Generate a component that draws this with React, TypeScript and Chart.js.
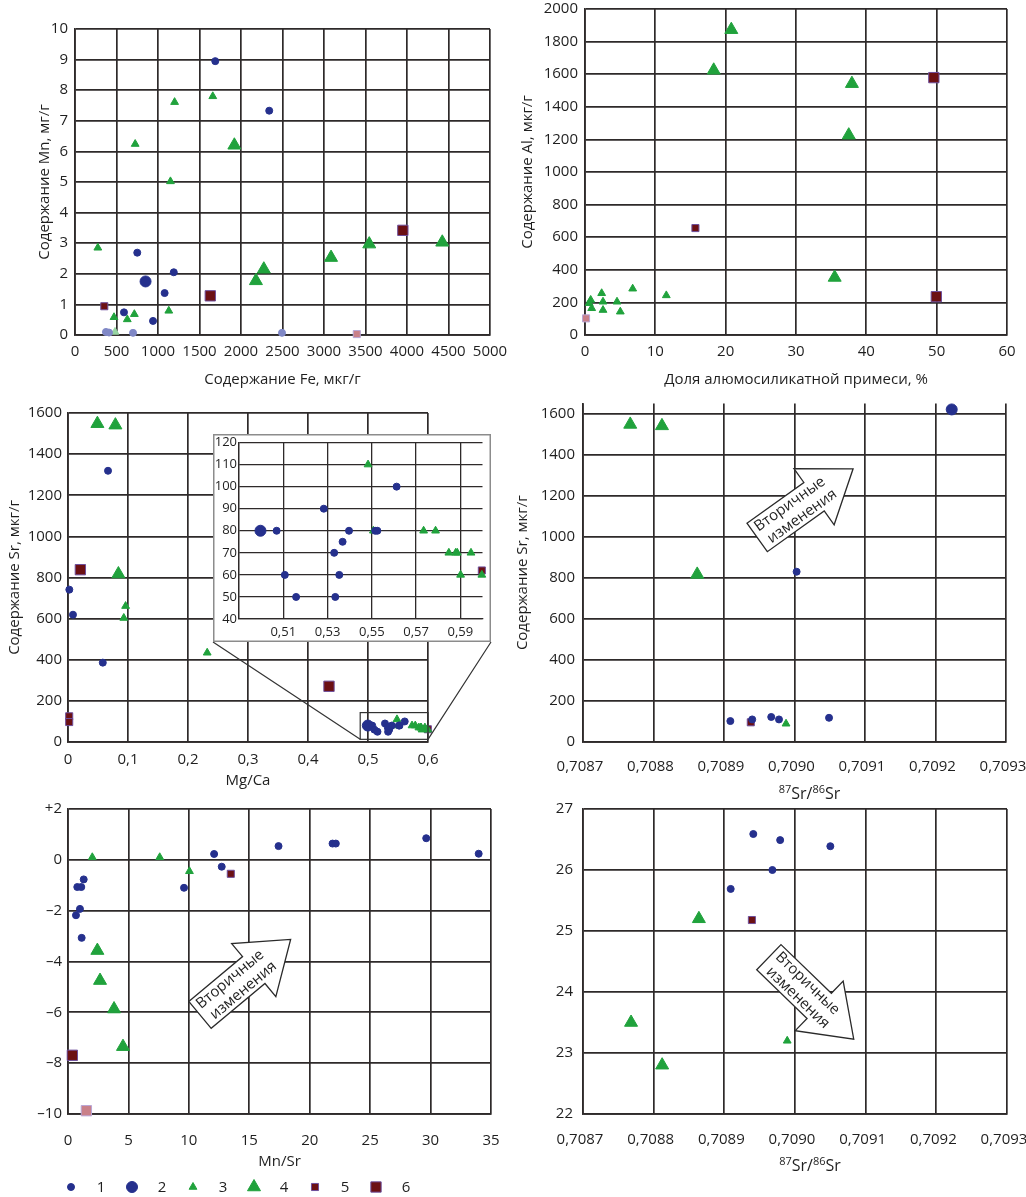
import React, { useEffect, useRef } from 'react';
import { Chart, registerables } from 'chart.js';

Chart.register(...registerables);

const FONT = "'Open Sans', 'Noto Sans', sans-serif";
const TXT = '#1f1f1f';
const GRID = '#2e2a2a';
const BLUE = '#25308d';
const BLUE_F = '#8088c6';
const GREEN = '#20a23c';
const GREEN_F = '#98d6a3';
const SQ_FILL = '#6c1013';
const SQ_BORDER = '#6e4f9c';
const SQ_FILL_F = '#c98089';
const SQ_BORDER_F = '#b9a6d6';

type Pt = [number, number];

// ---------------- Panel 1: Fe (мкг/г) vs Mn (мг/г)
const FE_MN_S1: Pt[] = [[1690, 8.95], [2340, 7.33], [750, 2.69], [1190, 2.05], [1080, 1.37], [590, 0.74], [940, 0.46], [373, 0.1], [410, 0.08], [699, 0.07], [2494, 0.07]];
const FE_MN_S2: Pt[] = [[850, 1.75]];
const FE_MN_S3: Pt[] = [[1660, 7.8], [1200, 7.61], [725, 6.24], [1150, 5.02], [275, 2.85], [1130, 0.79], [715, 0.68], [470, 0.58], [630, 0.51], [482, 0.1]];
const FE_MN_S4: Pt[] = [[1920, 6.2], [2180, 1.77], [2275, 2.15], [3085, 2.53], [3545, 2.97], [4425, 3.03]];
const FE_MN_S5: Pt[] = [[353, 0.94], [3395, 0.03]];
const FE_MN_S6: Pt[] = [[1630, 1.28], [3950, 3.42]];
const FE_TICKS = [0, 500, 1000, 1500, 2000, 2500, 3000, 3500, 4000, 4500, 5000];
const MN_TICKS = [0, 1, 2, 3, 4, 5, 6, 7, 8, 9, 10];

// ---------------- Panel 2: доля алюмосиликатной примеси (%) vs Al (мкг/г)
const ALS_AL_S1: Pt[] = [];
const ALS_AL_S2: Pt[] = [];
const ALS_AL_S3: Pt[] = [[0.81, 215], [0.6, 195], [0.95, 164], [2.37, 256], [2.56, 204], [2.56, 153], [4.55, 204], [5.02, 143], [6.78, 284], [11.56, 243]];
const ALS_AL_S4: Pt[] = [[20.8, 1873], [18.3, 1624], [37.95, 1542], [37.5, 1226], [35.5, 353]];
const ALS_AL_S5: Pt[] = [[15.7, 656], [0.15, 102]];
const ALS_AL_S6: Pt[] = [[49.6, 1579], [49.95, 235]];
const ALS_TICKS = [0, 10, 20, 30, 40, 50, 60];
const AL_TICKS = [0, 200, 400, 600, 800, 1000, 1200, 1400, 1600, 1800, 2000];

// ---------------- Panel 3: Mg/Ca vs Sr (мкг/г)
const MGCA_SR_S1: Pt[] = [[0.0667, 1319], [0.0022, 741], [0.0083, 619], [0.058, 386], [0.507, 80], [0.5107, 60], [0.5158, 50], [0.5283, 90], [0.533, 70], [0.5335, 50], [0.5353, 60], [0.5368, 75], [0.5397, 80], [0.5515, 80], [0.5525, 80], [0.5612, 100]];
const MGCA_SR_S2: Pt[] = [[0.4997, 80]];
const MGCA_SR_S3: Pt[] = [[0.096, 661], [0.093, 603], [0.232, 434], [0.5483, 110], [0.5507, 80], [0.5734, 80], [0.5788, 80], [0.5848, 70], [0.5879, 70], [0.5886, 70], [0.5948, 70], [0.5901, 60], [0.5997, 60]];
const MGCA_SR_S4: Pt[] = [[0.049, 1548], [0.079, 1541], [0.084, 817]];
const MGCA_SR_S5: Pt[] = [[0.002, 125], [0.002, 97], [0.5997, 62]];
const MGCA_SR_S6: Pt[] = [[0.0206, 838], [0.435, 271]];
const MGCA_TICKS = [0, 0.1, 0.2, 0.3, 0.4, 0.5, 0.6];
const SR_TICKS = [0, 200, 400, 600, 800, 1000, 1200, 1400, 1600];
const INSET_MGCA_TICKS = [0.49, 0.51, 0.53, 0.55, 0.57, 0.59];
const INSET_SR_TICKS = [40, 50, 60, 70, 80, 90, 100, 110, 120];
const INSET_BOX_X = [0.487, 0.6];
const INSET_BOX_Y = [13, 143];

// ---------------- Panel 4: 87Sr/86Sr vs Sr (мкг/г)
const ISO_SR_S1: Pt[] = [[0.708909, 102], [0.70894, 110], [0.708967, 122], [0.708978, 110], [0.709049, 118], [0.709003, 830]];
const ISO_SR_S2: Pt[] = [[0.709223, 1621]];
const ISO_SR_S3: Pt[] = [[0.708988, 89]];
const ISO_SR_S4: Pt[] = [[0.708767, 1548], [0.708812, 1541], [0.708862, 817]];
const ISO_SR_S5: Pt[] = [[0.708938, 96]];
const ISO_SR_S6: Pt[] = [];
const ISO_TICKS = [0.7087, 0.7088, 0.7089, 0.709, 0.7091, 0.7092, 0.7093];

// ---------------- Panel 5: Mn/Sr vs δ
const MNSR_D_S1: Pt[] = [[12.09, 0.23], [12.72, -0.27], [17.42, 0.54], [21.89, 0.64], [22.16, 0.64], [29.64, 0.85], [33.98, 0.24], [9.6, -1.1], [1.3, -0.77], [0.77, -1.07], [1.1, -1.07], [0.99, -1.93], [0.66, -2.18], [1.13, -3.07]];
const MNSR_D_S2: Pt[] = [];
const MNSR_D_S3: Pt[] = [[2.01, 0.1], [7.59, 0.1], [10.05, -0.45]];
const MNSR_D_S4: Pt[] = [[2.43, -3.57], [2.65, -4.75], [3.81, -5.87], [4.55, -7.35]];
const MNSR_D_S5: Pt[] = [[13.47, -0.55]];
const MNSR_D_S6: Pt[] = [[0.36, -7.69], [1.52, -9.87]];
const MNSR_TICKS = [0, 5, 10, 15, 20, 25, 30, 35];
const D13_TICKS = [-10, -8, -6, -4, -2, 0, 2];

// ---------------- Panel 6: 87Sr/86Sr vs δ
const ISO_D_S1: Pt[] = [[0.708941, 26.59], [0.708979, 26.49], [0.70905, 26.39], [0.708968, 26.0], [0.708909, 25.69]];
const ISO_D_S2: Pt[] = [];
const ISO_D_S3: Pt[] = [[0.708989, 23.2]];
const ISO_D_S4: Pt[] = [[0.708864, 25.2], [0.708768, 23.5], [0.708812, 22.8]];
const ISO_D_S5: Pt[] = [[0.708939, 25.18]];
const ISO_D_S6: Pt[] = [];
const D18_TICKS = [22, 23, 24, 25, 26, 27];

const LEGEND_LABELS = ['1', '2', '3', '4', '5', '6'];
const ARROW_LINES = ['Вторичные', 'изменения'];

// ---------------- styles / layout
const SERIES = [
  { style: 'circle', r: 3.5, fill: BLUE, border: BLUE, ff: BLUE_F, fb: BLUE_F },
  { style: 'circle', r: 5.5, fill: BLUE, border: BLUE, ff: BLUE_F, fb: BLUE_F },
  { style: 'triangle', r: 4.5, fill: GREEN, border: GREEN, ff: GREEN_F, fb: GREEN_F },
  { style: 'triangle', r: 7.5, fill: GREEN, border: GREEN, ff: GREEN_F, fb: GREEN_F },
  { style: 'rect', r: 5, fill: SQ_FILL, border: SQ_BORDER, ff: SQ_FILL_F, fb: SQ_BORDER_F },
  { style: 'rect', r: 7.3, fill: SQ_FILL, border: SQ_BORDER, ff: SQ_FILL_F, fb: SQ_BORDER_F },
];

const P1 = { left: 0, top: 0, width: 513, height: 395 };
const P2 = { left: 513, top: 0, width: 513, height: 395 };
const P3 = { left: 0, top: 395, width: 513, height: 395 };
const P4 = { left: 513, top: 395, width: 513, height: 410 };
const P5 = { left: 0, top: 790, width: 513, height: 407 };
const P6 = { left: 513, top: 800, width: 513, height: 397 };
const PI = { left: 213, top: 434, width: 278, height: 208 };

function makeDatasets(series: Pt[][], fade?: (x: number, y: number) => boolean, clip: any = false) {
  return series.map((pts, i) => {
    const s = SERIES[i];
    const isF = (c: any) => !!(fade && c && c.raw && fade(c.raw.x, c.raw.y));
    return {
      label: String(i + 1),
      data: pts.map(([x, y]) => ({ x, y })),
      pointStyle: s.style,
      pointRadius: s.r,
      pointHoverRadius: s.r,
      pointBorderWidth: 1,
      pointBackgroundColor: (c: any) => (isF(c) ? s.ff : s.fill),
      pointBorderColor: (c: any) => (isF(c) ? s.fb : s.border),
      clip,
    };
  });
}

type AxisOpt = {
  axis: 'x' | 'y'; min: number; max: number; ticks: number[]; fmt: (v: number) => string;
  size: number; pad: number; fontSize?: number; title?: string; titlePad?: any; lw?: number; labelOffset?: number;
};

function axis(o: AxisOpt) {
  const fs = o.fontSize ?? 15;
  const lw = o.lw ?? 1.7;
  return {
    type: 'linear',
    min: o.min,
    max: o.max,
    afterBuildTicks: (s: any) => { s.ticks = o.ticks.map((v) => ({ value: v })); },
    afterFit: (s: any) => {
      if (o.axis === 'x') { s.height = o.size; s.paddingLeft = 0; s.paddingRight = 0; }
      else { s.width = o.size; s.paddingTop = 0; s.paddingBottom = 0; }
    },
    grid: { color: GRID, lineWidth: lw, drawTicks: false },
    border: { color: GRID, width: lw },
    ticks: {
      padding: o.pad, color: TXT, font: { family: FONT, size: fs },
      autoSkip: false, maxRotation: 0, minRotation: 0, labelOffset: o.labelOffset ?? 0,
      callback: (v: any) => o.fmt(Number(v)),
    },
    title: o.title
      ? { display: true, text: o.title, color: TXT, font: { family: FONT, size: 15 }, padding: o.titlePad }
      : { display: false },
  };
}

function cfg(datasets: any[], scales: any, padding: any, plugins: any[] = []): any {
  return {
    type: 'scatter',
    data: { datasets },
    options: {
      animation: false,
      responsive: false,
      maintainAspectRatio: false,
      events: [],
      layout: { padding },
      scales,
      plugins: { legend: { display: false }, tooltip: { enabled: false }, title: { display: false } },
    },
    plugins,
  };
}

const plain = (v: number) => String(v);
const comma = (d: number) => (v: number) => (v === 0 ? '0' : v.toFixed(d).replace('.', ','));
const signed = (v: number) => (v > 0 ? '+' + v : v < 0 ? '–' + Math.abs(v) : '0');

function drawMarker(ctx: CanvasRenderingContext2D, style: string, x: number, y: number, r: number, fill: string, border: string) {
  ctx.beginPath();
  if (style === 'circle') {
    ctx.arc(x, y, r, 0, Math.PI * 2);
  } else if (style === 'triangle') {
    ctx.moveTo(x, y - r);
    ctx.lineTo(x + r * 0.866, y + r * 0.5);
    ctx.lineTo(x - r * 0.866, y + r * 0.5);
    ctx.closePath();
  } else {
    const h = r * Math.SQRT1_2;
    ctx.rect(x - h, y - h, 2 * h, 2 * h);
  }
  ctx.fillStyle = fill;
  ctx.fill();
  ctx.strokeStyle = border;
  ctx.lineWidth = 1;
  ctx.stroke();
}

function arrowPlugin(id: string, ax: number, ay: number, angleDeg: number) {
  return {
    id,
    afterDatasetsDraw(chart: any) {
      const { ctx, scales } = chart;
      const px = scales.x.getPixelForValue(ax);
      const py = scales.y.getPixelForValue(ay);
      const sl = 70, sw = 35, hw = 69, hl = 48;
      ctx.save();
      ctx.translate(px, py);
      ctx.rotate((angleDeg * Math.PI) / 180);
      ctx.beginPath();
      ctx.moveTo(0, -sw / 2);
      ctx.lineTo(sl, -sw / 2);
      ctx.lineTo(sl, -hw / 2);
      ctx.lineTo(sl + hl, 0);
      ctx.lineTo(sl, hw / 2);
      ctx.lineTo(sl, sw / 2);
      ctx.lineTo(0, sw / 2);
      ctx.closePath();
      ctx.fillStyle = '#ffffff';
      ctx.fill();
      ctx.strokeStyle = '#2a2a2a';
      ctx.lineWidth = 1.3;
      ctx.stroke();
      ctx.fillStyle = TXT;
      ctx.font = `15px ${FONT}`;
      ctx.textAlign = 'center';
      ctx.textBaseline = 'middle';
      ctx.fillText(ARROW_LINES[0], 46, -8);
      ctx.fillText(ARROW_LINES[1], 49, 9);
      ctx.restore();
    },
  };
}

function isoTitle(yLocal: number, dx: number) {
  return {
    id: 'isoTitle',
    afterDraw(chart: any) {
      const { ctx, chartArea } = chart;
      const parts: [string, number, boolean][] = [['87', 11, true], ['Sr/', 16, false], ['86', 11, true], ['Sr', 16, false]];
      ctx.save();
      ctx.fillStyle = TXT;
      ctx.textBaseline = 'alphabetic';
      ctx.textAlign = 'left';
      let total = 0;
      for (const [t, s] of parts) { ctx.font = `${s}px ${FONT}`; total += ctx.measureText(t).width; }
      let x = (chartArea.left + chartArea.right) / 2 + dx - total / 2;
      const base = yLocal + 6;
      for (const [t, s, sup] of parts) {
        ctx.font = `${s}px ${FONT}`;
        ctx.fillText(t, x, sup ? base - 6 : base);
        x += ctx.measureText(t).width;
      }
      ctx.restore();
    },
  };
}

const insetLink = {
  id: 'insetLink',
  afterDatasetsDraw(chart: any) {
    const { ctx, scales } = chart;
    const x0 = scales.x.getPixelForValue(INSET_BOX_X[0]);
    const x1 = scales.x.getPixelForValue(INSET_BOX_X[1]);
    const y0 = scales.y.getPixelForValue(INSET_BOX_Y[0]);
    const y1 = scales.y.getPixelForValue(INSET_BOX_Y[1]);
    ctx.save();
    ctx.strokeStyle = '#333333';
    ctx.lineWidth = 1.2;
    ctx.strokeRect(x0, y1, x1 - x0, y0 - y1);
    const by = PI.top + PI.height - P3.top;
    ctx.beginPath();
    ctx.moveTo(x0, y0);
    ctx.lineTo(PI.left - P3.left, by);
    ctx.moveTo(x1, y0);
    ctx.lineTo(PI.left + PI.width - P3.left, by);
    ctx.stroke();
    ctx.restore();
  },
};

const insetFrame = {
  id: 'insetFrame',
  beforeDraw(chart: any) {
    const { ctx, width, height } = chart;
    ctx.save();
    ctx.fillStyle = '#ffffff';
    ctx.fillRect(0, 0, width, height);
    ctx.restore();
  },
  afterDraw(chart: any) {
    const { ctx, width, height } = chart;
    ctx.save();
    ctx.strokeStyle = '#8c8c8c';
    ctx.lineWidth = 1.5;
    ctx.strokeRect(0.75, 0.75, width - 1.5, height - 1.5);
    ctx.restore();
  },
};

const legendPlugin = {
  id: 'legendMarks',
  afterDraw(chart: any) {
    const { ctx } = chart;
    const y = 1187 - P5.top;
    ctx.save();
    SERIES.forEach((s, i) => {
      const mx = 71 + i * 61;
      drawMarker(ctx, s.style, mx, y, s.r, s.fill, s.border);
      ctx.font = `15px ${FONT}`;
      ctx.fillStyle = TXT;
      ctx.textAlign = 'center';
      ctx.textBaseline = 'middle';
      ctx.fillText(LEGEND_LABELS[i], mx + 30, y + 1);
    });
    ctx.restore();
  },
};

// ---------------- chart configs
const config1 = () => cfg(
  makeDatasets([FE_MN_S1, FE_MN_S2, FE_MN_S3, FE_MN_S4, FE_MN_S5, FE_MN_S6], (_x, y) => y <= 0.12),
  {
    x: axis({ axis: 'x', min: 0, max: 5000, ticks: FE_TICKS, fmt: plain, size: 60, pad: 8, title: 'Содержание Fe, мкг/г', titlePad: { top: 0, bottom: 6 } }),
    y: axis({ axis: 'y', min: 0, max: 10, ticks: MN_TICKS, fmt: plain, size: 75, pad: 7, title: 'Содержание Mn, мг/г', titlePad: { top: 36, bottom: 0 } }),
  },
  { top: 29, right: 23, left: 0, bottom: 0 },
);

const config2 = () => cfg(
  makeDatasets([ALS_AL_S1, ALS_AL_S2, ALS_AL_S3, ALS_AL_S4, ALS_AL_S5, ALS_AL_S6], (x) => x <= 0.2),
  {
    x: axis({ axis: 'x', min: 0, max: 60, ticks: ALS_TICKS, fmt: plain, size: 60, pad: 8, title: 'Доля алюмосиликатной примеси, %', titlePad: { top: 0, bottom: 6 } }),
    y: axis({ axis: 'y', min: 0, max: 2000, ticks: AL_TICKS, fmt: plain, size: 72, pad: 7, title: 'Содержание Al, мкг/г', titlePad: { top: 6, bottom: 0 } }),
  },
  { top: 9, right: 19, left: 0, bottom: 0 },
);

const MGCA_SERIES = [MGCA_SR_S1, MGCA_SR_S2, MGCA_SR_S3, MGCA_SR_S4, MGCA_SR_S5, MGCA_SR_S6];

const config3 = () => cfg(
  makeDatasets(MGCA_SERIES),
  {
    x: axis({ axis: 'x', min: 0, max: 0.6, ticks: MGCA_TICKS, fmt: comma(1), size: 48, pad: 9, title: 'Mg/Ca', titlePad: { top: 0, bottom: 0 } }),
    y: axis({ axis: 'y', min: 0, max: 1600, ticks: SR_TICKS, fmt: plain, size: 68, pad: 6, title: 'Содержание Sr, мкг/г', titlePad: { top: 6, bottom: 0 } }),
  },
  { top: 18, right: 85, left: 0, bottom: 0 },
  [insetLink],
);

const configInset = () => cfg(
  makeDatasets(MGCA_SERIES, undefined, 8),
  {
    x: axis({ axis: 'x', min: 0.49, max: 0.6, ticks: INSET_MGCA_TICKS, fmt: (v) => (v < 0.5 ? '' : v.toFixed(2).replace('.', ',')), size: 23, pad: 5, fontSize: 13, lw: 1.3 }),
    y: axis({ axis: 'y', min: 40, max: 120, ticks: INSET_SR_TICKS, fmt: plain, size: 26, pad: 2, fontSize: 13, lw: 1.3 }),
  },
  { top: 8, right: 7, left: 0, bottom: 0 },
  [insetFrame],
);

const config4 = () => cfg(
  makeDatasets([ISO_SR_S1, ISO_SR_S2, ISO_SR_S3, ISO_SR_S4, ISO_SR_S5, ISO_SR_S6]),
  {
    x: axis({ axis: 'x', min: 0.7087, max: 0.7093, ticks: ISO_TICKS, fmt: comma(4), size: 63, pad: 16, labelOffset: -3 }),
    y: axis({ axis: 'y', min: 0, max: 1650, ticks: SR_TICKS, fmt: plain, size: 70, pad: 8, title: 'Содержание Sr, мкг/г', titlePad: { top: 1, bottom: 0 } }),
  },
  { top: 8, right: 20, left: 0, bottom: 0 },
  [arrowPlugin('arrow4', 0.708947, 997, -35.6), isoTitle(793 - P4.top, 15)],
);

const config5 = () => cfg(
  makeDatasets([MNSR_D_S1, MNSR_D_S2, MNSR_D_S3, MNSR_D_S4, MNSR_D_S5, MNSR_D_S6], (_x, y) => y <= -9.5),
  {
    x: axis({ axis: 'x', min: 0, max: 35, ticks: MNSR_TICKS, fmt: plain, size: 83, pad: 18, title: 'Mn/Sr', titlePad: { top: 0, bottom: 26 } }),
    y: axis({ axis: 'y', min: -10, max: 2, ticks: D13_TICKS, fmt: signed, size: 68, pad: 6 }),
  },
  { top: 19, right: 22, left: 0, bottom: 0 },
  [arrowPlugin('arrow5', 10.92, -6.1, -39.8), legendPlugin],
);

const config6 = () => cfg(
  makeDatasets([ISO_D_S1, ISO_D_S2, ISO_D_S3, ISO_D_S4, ISO_D_S5, ISO_D_S6]),
  {
    x: axis({ axis: 'x', min: 0.7087, max: 0.7093, ticks: ISO_TICKS, fmt: comma(4), size: 83, pad: 17, labelOffset: -3 }),
    y: axis({ axis: 'y', min: 22, max: 27, ticks: D18_TICKS, fmt: plain, size: 70, pad: 10 }),
  },
  { top: 9, right: 19, left: 0, bottom: 0 },
  [arrowPlugin('arrow6', 0.708963, 24.57, 44), isoTitle(1165 - P6.top, 15)],
);

function ChartBox({ box, make }: { box: { left: number; top: number; width: number; height: number }; make: () => any }) {
  const ref = useRef<HTMLCanvasElement>(null);
  useEffect(() => {
    const chart = new Chart(ref.current as HTMLCanvasElement, make());
    return () => chart.destroy();
  }, []);
  return (
    <div style={{ position: 'absolute', left: box.left, top: box.top, width: box.width, height: box.height }}>
      <canvas ref={ref} width={box.width} height={box.height} style={{ width: box.width, height: box.height, display: 'block' }} />
    </div>
  );
}

export default function App() {
  return (
    <div style={{ position: 'absolute', left: 0, top: 0, width: 1026, height: 1197, background: '#ffffff', overflow: 'hidden', fontFamily: FONT }}>
      <ChartBox box={P1} make={config1} />
      <ChartBox box={P2} make={config2} />
      <ChartBox box={P3} make={config3} />
      <ChartBox box={P4} make={config4} />
      <ChartBox box={P5} make={config5} />
      <ChartBox box={P6} make={config6} />
      <ChartBox box={PI} make={configInset} />
    </div>
  );
}
